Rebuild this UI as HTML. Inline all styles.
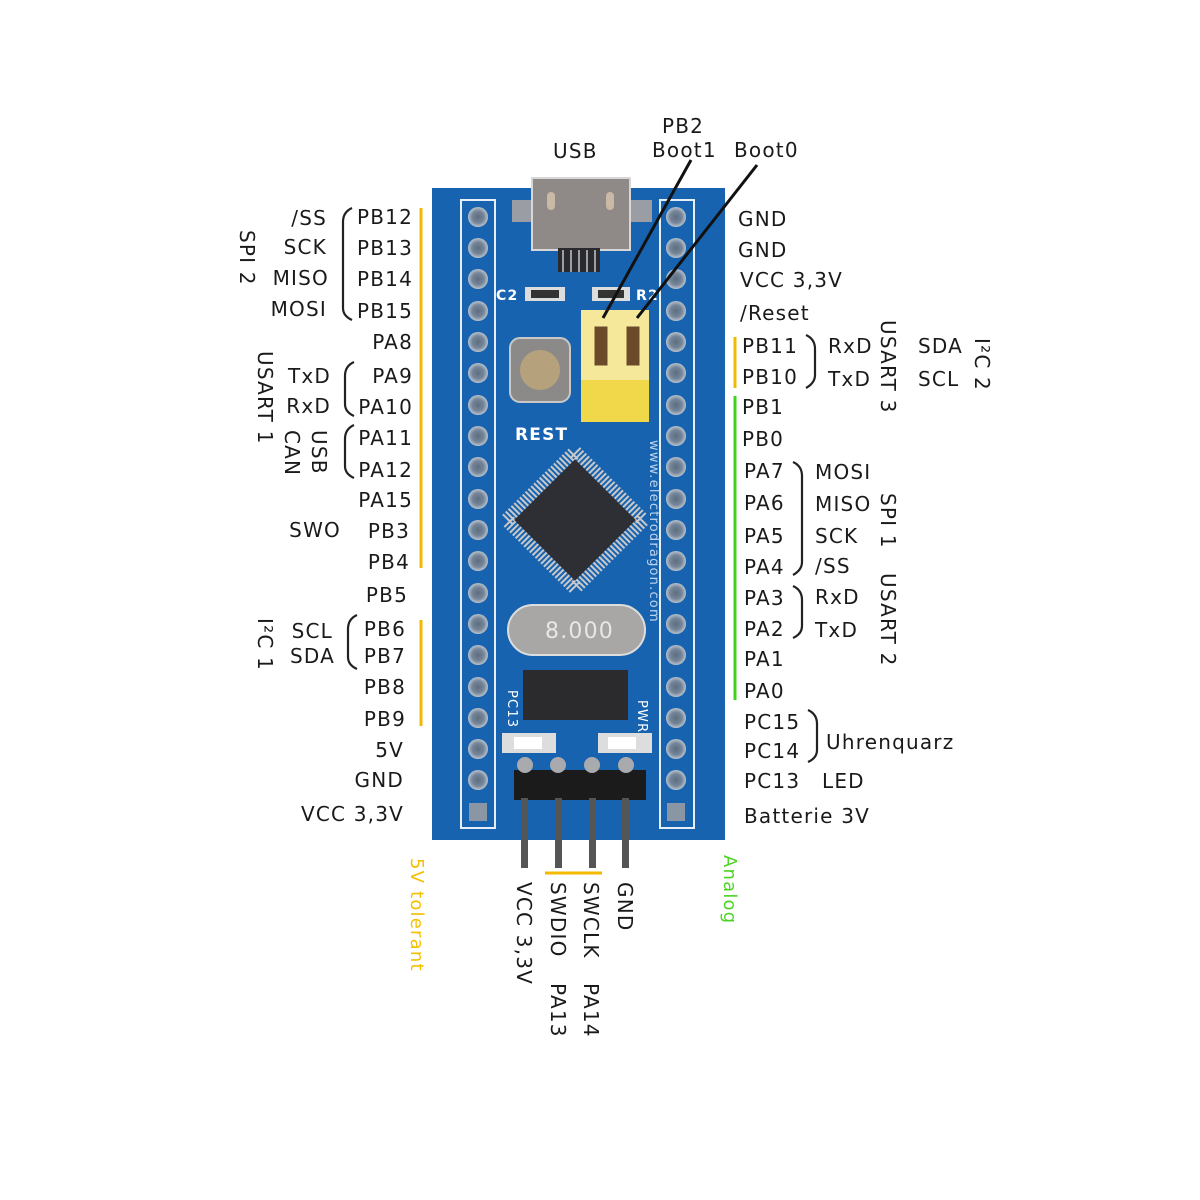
<!DOCTYPE html>
<html><head><meta charset="utf-8"><style>
html,body{margin:0;padding:0;background:#fff;}
svg{display:block}
text{font-family:"DejaVu Sans","Liberation Sans",sans-serif;font-size:20px;fill:#1a1a1a;letter-spacing:1.2px}
.e{text-anchor:end}
</style></head><body>
<svg width="1200" height="1200" viewBox="0 0 1200 1200" xmlns="http://www.w3.org/2000/svg">
<defs>
<radialGradient id="pin" cx="50%" cy="50%" r="50%">
<stop offset="0" stop-color="#5d6e80"/><stop offset="0.6" stop-color="#76869a"/><stop offset="1" stop-color="#b9c3cc"/>
</radialGradient>
</defs>
<!-- board -->
<rect x="432" y="188" width="293" height="652" fill="#1763b0"/>
<rect x="461" y="200" width="34" height="628" fill="none" stroke="#e6eef7" stroke-width="2"/>
<rect x="660" y="200" width="34" height="628" fill="none" stroke="#e6eef7" stroke-width="2"/>
<g id="pins">
</g>
<!-- USB connector -->
<rect x="512" y="200" width="22" height="22" fill="#9a9ea4"/>
<rect x="630" y="200" width="22" height="22" fill="#9a9ea4"/>
<rect x="532" y="178" width="98" height="72" fill="#8f8a88" stroke="#d7d7d7" stroke-width="2"/>
<rect x="547" y="192" width="8" height="18" rx="4" fill="#c9b9a5"/>
<rect x="606" y="192" width="8" height="18" rx="4" fill="#c9b9a5"/>
<rect x="558" y="248" width="42" height="24" fill="#2a2a2e"/>
<g stroke="#9ca0a6" stroke-width="2"><line x1="563" y1="250" x2="563" y2="272"/><line x1="571" y1="250" x2="571" y2="272"/><line x1="579" y1="250" x2="579" y2="272"/><line x1="587" y1="250" x2="587" y2="272"/><line x1="595" y1="250" x2="595" y2="272"/></g>
<!-- small smd parts -->
<rect x="525" y="287" width="40" height="14" fill="#ddd"/><rect x="531" y="290" width="28" height="8" fill="#333"/>
<rect x="592" y="287" width="38" height="14" fill="#ddd"/><rect x="598" y="290" width="26" height="8" fill="#333"/>
<text x="496" y="300" style="font-size:14px;fill:#fff;font-weight:bold">C2</text>
<text x="636" y="300" style="font-size:14px;fill:#fff;font-weight:bold">R2</text>
<!-- reset button -->
<rect x="510" y="338" width="60" height="64" rx="10" fill="#8c8a88" stroke="#c8c8c8" stroke-width="2"/>
<circle cx="540" cy="370" r="20" fill="#b5a27c"/>
<text x="515" y="440" style="font-size:17px;fill:#fff;font-weight:bold">REST</text>
<!-- jumpers -->
<rect x="581" y="310" width="68" height="112" fill="#f6e89a"/>
<rect x="581" y="380" width="68" height="42" fill="#f0d84a"/>
<rect x="593" y="325" width="16" height="42" fill="#6b4a2a" stroke="#f6e89a" stroke-width="3"/>
<rect x="625" y="325" width="16" height="42" fill="#6b4a2a" stroke="#f6e89a" stroke-width="3"/>
<!-- chip -->
<g transform="rotate(45 575 520)">
<rect x="527" y="472" width="96" height="96" fill="none" stroke="#c9c9c9" stroke-width="14" stroke-dasharray="2 2"/>
<rect x="532" y="477" width="86" height="86" fill="#2d2f35"/>
</g>
<text x="650" y="440" transform="rotate(90 650 440)" style="font-size:13px;fill:#bcd3ee">www.electrodragon.com</text>
<!-- crystal -->
<rect x="508" y="605" width="137" height="50" rx="25" fill="#a9a7a6" stroke="#ddd" stroke-width="2"/>
<text x="545" y="638" style="font-size:22px;fill:#e7e7e7">8.000</text>
<!-- regulator -->
<rect x="523" y="670" width="105" height="50" fill="#2b2b2d"/>
<text x="508" y="690" transform="rotate(90 508 690)" style="font-size:13px;fill:#fff">PC13</text>
<text x="638" y="700" transform="rotate(90 638 700)" style="font-size:13px;fill:#fff">PWR</text>
<rect x="502" y="733" width="54" height="20" fill="#ddd"/><rect x="514" y="737" width="28" height="12" fill="#fff"/>
<rect x="598" y="733" width="54" height="20" fill="#ddd"/><rect x="608" y="737" width="28" height="12" fill="#fff"/>
<!-- header -->
<rect x="514" y="770" width="132" height="30" fill="#1b1b1b"/>
<g fill="#555"><rect x="521" y="798" width="7" height="70"/><rect x="555" y="798" width="7" height="70"/><rect x="589" y="798" width="7" height="70"/><rect x="622" y="798" width="7" height="70"/></g>
<g fill="#a9aaae"><circle cx="525" cy="765" r="8"/><circle cx="558" cy="765" r="8"/><circle cx="592" cy="765" r="8"/><circle cx="626" cy="765" r="8"/></g>
<!-- pins -->
<g fill="url(#pin)">
<circle cx="478" cy="217" r="10"/><circle cx="478" cy="248" r="10"/><circle cx="478" cy="279" r="10"/><circle cx="478" cy="311" r="10"/><circle cx="478" cy="342" r="10"/><circle cx="478" cy="373" r="10"/><circle cx="478" cy="405" r="10"/><circle cx="478" cy="436" r="10"/><circle cx="478" cy="467" r="10"/><circle cx="478" cy="499" r="10"/><circle cx="478" cy="530" r="10"/><circle cx="478" cy="561" r="10"/><circle cx="478" cy="593" r="10"/><circle cx="478" cy="624" r="10"/><circle cx="478" cy="655" r="10"/><circle cx="478" cy="687" r="10"/><circle cx="478" cy="718" r="10"/><circle cx="478" cy="749" r="10"/><circle cx="478" cy="780" r="10"/>
<circle cx="676" cy="217" r="10"/><circle cx="676" cy="248" r="10"/><circle cx="676" cy="279" r="10"/><circle cx="676" cy="311" r="10"/><circle cx="676" cy="342" r="10"/><circle cx="676" cy="373" r="10"/><circle cx="676" cy="405" r="10"/><circle cx="676" cy="436" r="10"/><circle cx="676" cy="467" r="10"/><circle cx="676" cy="499" r="10"/><circle cx="676" cy="530" r="10"/><circle cx="676" cy="561" r="10"/><circle cx="676" cy="593" r="10"/><circle cx="676" cy="624" r="10"/><circle cx="676" cy="655" r="10"/><circle cx="676" cy="687" r="10"/><circle cx="676" cy="718" r="10"/><circle cx="676" cy="749" r="10"/><circle cx="676" cy="780" r="10"/>
</g>
<rect x="469" y="803" width="18" height="18" fill="#8a96a4"/><rect x="667" y="803" width="18" height="18" fill="#8a96a4"/>
<!-- boot lines -->
<line x1="691" y1="160" x2="603" y2="318" stroke="#111" stroke-width="3"/>
<line x1="757" y1="165" x2="637" y2="318" stroke="#111" stroke-width="3"/>
<!-- colour bars -->
<g stroke-width="3">
<line x1="421" y1="208" x2="421" y2="568" stroke="#f5b800"/>
<line x1="421" y1="620" x2="421" y2="726" stroke="#f5b800"/>
<line x1="735" y1="337" x2="735" y2="388" stroke="#f5b800"/>
<line x1="735" y1="396" x2="735" y2="700" stroke="#3fd21e"/>
<line x1="545" y1="873" x2="602" y2="873" stroke="#f5b800"/>
</g>
<!-- top labels -->
<text x="553" y="158">USB</text>
<text x="662" y="133">PB2</text>
<text x="652" y="157">Boot1</text>
<text x="734" y="157">Boot0</text>
<!-- left labels -->
<g class="e">
<text class="e" x="413" y="224">PB12</text>
<text class="e" x="413" y="255">PB13</text>
<text class="e" x="413" y="286">PB14</text>
<text class="e" x="413" y="318">PB15</text>
<text class="e" x="413" y="349">PA8</text>
<text class="e" x="413" y="383">PA9</text>
<text class="e" x="413" y="414">PA10</text>
<text class="e" x="413" y="445">PA11</text>
<text class="e" x="413" y="477">PA12</text>
<text class="e" x="413" y="507">PA15</text>
<text class="e" x="410" y="538">PB3</text>
<text class="e" x="410" y="569">PB4</text>
<text class="e" x="408" y="602">PB5</text>
<text class="e" x="406" y="636">PB6</text>
<text class="e" x="406" y="663">PB7</text>
<text class="e" x="406" y="694">PB8</text>
<text class="e" x="406" y="726">PB9</text>
<text class="e" x="404" y="757">5V</text>
<text class="e" x="404" y="787">GND</text>
<text class="e" x="404" y="821">VCC 3,3V</text>
<text class="e" x="327" y="225">/SS</text>
<text class="e" x="327" y="254">SCK</text>
<text class="e" x="329" y="285">MISO</text>
<text class="e" x="327" y="316">MOSI</text>
<text class="e" x="331" y="383">TxD</text>
<text class="e" x="331" y="413">RxD</text>
<text class="e" x="341" y="537">SWO</text>
<text class="e" x="333" y="638">SCL</text>
<text class="e" x="335" y="663">SDA</text>
</g>
<text x="240" y="230" transform="rotate(90 240 230)">SPI 2</text>
<text x="258" y="351" transform="rotate(90 258 351)">USART 1</text>
<text x="312" y="430" transform="rotate(90 312 430)">USB</text>
<text x="285" y="430" transform="rotate(90 285 430)">CAN</text>
<text x="258" y="618" transform="rotate(90 258 618)">I²C 1</text>
<g fill="none" stroke="#222" stroke-width="2.2">
<path d="M352 208 Q343 212 343 222 L343 308 Q343 316 352 320"/>
<path d="M354 362 Q345 366 345 376 L345 404 Q345 412 354 416"/>
<path d="M354 425 Q345 429 345 439 L345 466 Q345 474 354 478"/>
<path d="M357 615 Q348 619 348 629 L348 657 Q348 665 357 669"/>
<path d="M806 335 Q815 339 815 349 L815 375 Q815 383 806 388"/>
<path d="M793 462 Q802 466 802 476 L802 562 Q802 570 793 575"/>
<path d="M793 586 Q802 590 802 600 L802 626 Q802 634 793 638"/>
<path d="M808 710 Q817 714 817 724 L817 750 Q817 758 808 762"/>
</g>
<!-- right labels -->
<text x="738" y="226">GND</text>
<text x="738" y="257">GND</text>
<text x="740" y="287">VCC 3,3V</text>
<text x="740" y="320">/Reset</text>
<text x="742" y="353">PB11</text>
<text x="742" y="384">PB10</text>
<text x="742" y="414">PB1</text>
<text x="742" y="446">PB0</text>
<text x="744" y="478">PA7</text>
<text x="744" y="510">PA6</text>
<text x="744" y="543">PA5</text>
<text x="744" y="574">PA4</text>
<text x="744" y="605">PA3</text>
<text x="744" y="636">PA2</text>
<text x="744" y="666">PA1</text>
<text x="744" y="698">PA0</text>
<text x="744" y="729">PC15</text>
<text x="744" y="758">PC14</text>
<text x="744" y="788">PC13</text>
<text x="744" y="823">Batterie 3V</text>
<text x="828" y="353">RxD</text>
<text x="828" y="386">TxD</text>
<text x="918" y="353">SDA</text>
<text x="918" y="386">SCL</text>
<text x="815" y="479">MOSI</text>
<text x="815" y="511">MISO</text>
<text x="815" y="543">SCK</text>
<text x="815" y="573">/SS</text>
<text x="815" y="604">RxD</text>
<text x="815" y="637">TxD</text>
<text x="826" y="749">Uhrenquarz</text>
<text x="822" y="788">LED</text>
<text x="881" y="320" transform="rotate(90 881 320)">USART 3</text>
<text x="975" y="338" transform="rotate(90 975 338)">I²C 2</text>
<text x="881" y="493" transform="rotate(90 881 493)">SPI 1</text>
<text x="881" y="573" transform="rotate(90 881 573)">USART 2</text>
<!-- bottom -->
<text x="517" y="882" transform="rotate(90 517 882)">VCC 3,3V</text>
<text x="551" y="882" transform="rotate(90 551 882)">SWDIO</text>
<text x="584" y="882" transform="rotate(90 584 882)">SWCLK</text>
<text x="618" y="882" transform="rotate(90 618 882)">GND</text>
<text x="551" y="983" transform="rotate(90 551 983)">PA13</text>
<text x="584" y="983" transform="rotate(90 584 983)">PA14</text>
<text x="411" y="858" transform="rotate(90 411 858)" style="fill:#f5c000;font-size:18px">5V tolerant</text>
<text x="724" y="855" transform="rotate(90 724 855)" style="fill:#4cd424;font-size:18px">Analog</text>
</svg>
</body></html>
